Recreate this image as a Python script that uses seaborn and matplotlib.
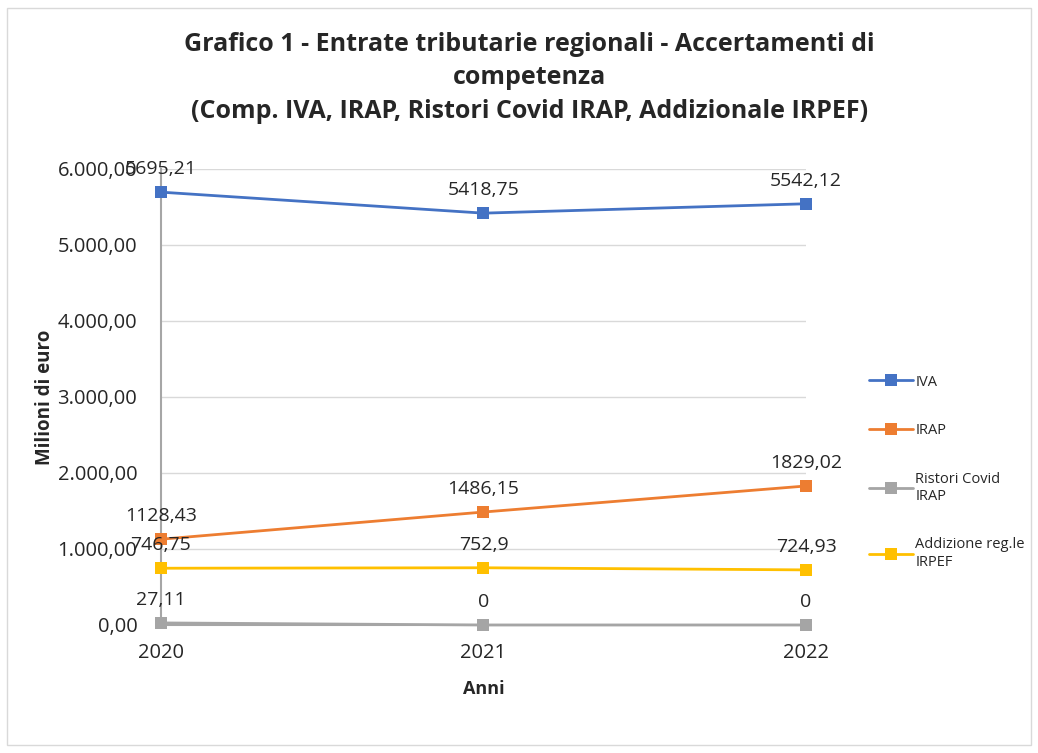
import pandas as pd
import matplotlib.pyplot as plt
import seaborn as sns
from matplotlib.ticker import FuncFormatter
from matplotlib.patches import Rectangle

anni = [2020, 2021, 2022]
serie = ['IVA', 'IRAP', 'Ristori Covid\nIRAP', 'Addizione reg.le\nIRPEF']
iva = [5695.21, 5418.75, 5542.12]
irap = [1128.43, 1486.15, 1829.02]
ristori = [27.11, 0, 0]
addizionale = [746.75, 752.9, 724.93]
etichette = [['5695,21', '5418,75', '5542,12'],
             ['1128,43', '1486,15', '1829,02'],
             ['27,11', '0', '0'],
             ['746,75', '752,9', '724,93']]
colori = ['#4472C4', '#ED7D31', '#A5A5A5', '#FFC000']

valori = [iva, irap, ristori, addizionale]
df = pd.DataFrame({
    'Anno': anni * 4,
    'Valore': iva + irap + ristori + addizionale,
    'Serie': [s for s in serie for _ in anni],
})

sns.set_style('white')
plt.rcParams['font.family'] = ['Open Sans', 'DejaVu Sans']

fig = plt.figure(figsize=(10.38, 7.53), dpi=100)
ax = fig.add_axes([0.155, 0.17, 0.6215, 0.6056])

sns.lineplot(data=df, x='Anno', y='Valore', hue='Serie', hue_order=serie,
             palette=colori, style='Serie', markers=['s'] * 4, dashes=False,
             markersize=8, linewidth=2, markeredgewidth=0, ax=ax, zorder=3)
for ln in ax.lines:
    ln.set_clip_on(False)

# etichette dati sopra i punti
for vals, labs in zip(valori, etichette):
    for x, v, t in zip(anni, vals, labs):
        ax.annotate(t, (x, v), xytext=(0, 10), textcoords='offset points',
                    ha='center', va='bottom', fontsize=14, color='#262626', zorder=5)

ax.set_xlim(2020, 2022)
ax.set_ylim(0, 6000)
ax.set_xticks(anni)
ax.set_yticks(range(0, 6001, 1000))
ax.yaxis.set_major_formatter(FuncFormatter(
    lambda v, p: f'{v:,.2f}'.replace(',', 'X').replace('.', ',').replace('X', '.')))
ax.tick_params(axis='both', labelsize=14.5, colors='#262626', length=0)
ax.tick_params(axis='x', pad=13)
ax.tick_params(axis='y', pad=17)
ax.yaxis.grid(True, color='#D9D9D9', linewidth=1)
ax.set_axisbelow(True)
for s in ['top', 'right']:
    ax.spines[s].set_visible(False)
ax.spines['left'].set_color('#A6A6A6')
ax.spines['bottom'].set_color('#A6A6A6')
ax.spines['left'].set_linewidth(1.5)
ax.spines['bottom'].set_linewidth(1.5)

ax.set_xlabel('Anni', fontsize=13, fontweight='bold', color='#262626', labelpad=12)
ax.set_ylabel('Milioni di euro', fontsize=13.5, fontweight='bold', color='#262626', labelpad=2)

fig.text(0.51, 0.958, 'Grafico 1 - Entrate tributarie regionali - Accertamenti di\ncompetenza\n'
         '(Comp. IVA, IRAP, Ristori Covid IRAP, Addizionale IRPEF)',
         ha='center', va='top', fontsize=18, fontweight='bold', color='#262626',
         linespacing=1.45)

leg = ax.legend(loc='upper left', bbox_to_anchor=(0.825, 0.52), bbox_transform=fig.transFigure,
                frameon=False, fontsize=10.5, labelspacing=2.3, handlelength=3.0,
                handletextpad=0.15)
for t in leg.get_texts():
    t.set_color('#262626')

fig.patches.append(Rectangle((0.007, 0.01), 0.986, 0.98, transform=fig.transFigure,
                             fill=False, edgecolor='#D9D9D9', linewidth=1))

fig.savefig('out.png', dpi=100, facecolor='white')
